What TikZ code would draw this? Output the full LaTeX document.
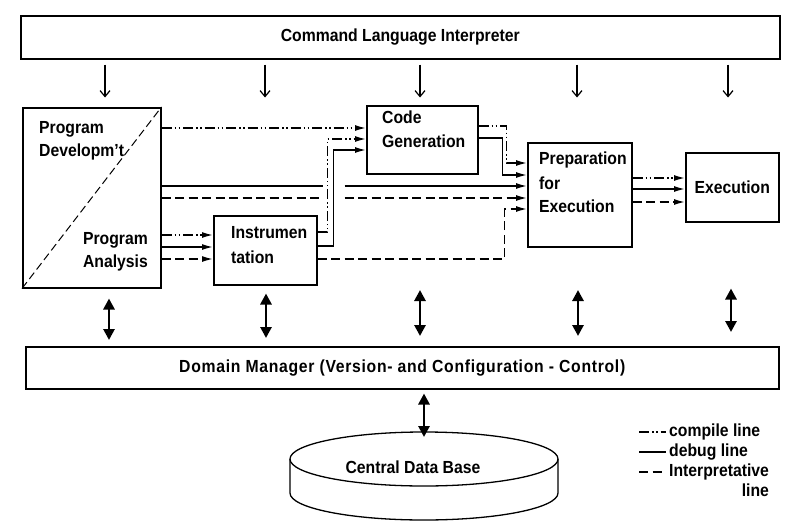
\documentclass[tikz,border=0pt]{standalone}
\usepackage{fontspec}
\setmainfont{Liberation Sans}[FakeStretch=0.9]
\usetikzlibrary{arrows.meta,calc}
\begin{document}
\begin{tikzpicture}[x=1pt,y=-1pt,
  box/.style={draw, line width=1.5pt, inner sep=0pt, anchor=north west},
  txt/.style={font=\fontsize{17.5}{17.5}\selectfont\bfseries, inner sep=0pt},
  lbl/.style={txt, anchor=west},
  comp/.style={line width=1.4pt, dash pattern=on 10pt off 3pt on 1.5pt off 2.5pt on 1.5pt off 3pt},
  dbg/.style={line width=1.4pt},
  intp/.style={line width=1.4pt, dash pattern=on 9pt off 4.5pt},
  arr/.style={-{Latex[length=11pt,width=6pt]}},
  down/.style={line width=1.2pt, -{Straight Barb[length=6pt,width=10pt]}},
  dbl/.style={line width=2.8pt, {Triangle[length=11pt,width=11pt]}-{Triangle[length=11pt,width=11pt]}}]
\useasboundingbox (0,0) rectangle (806,522);

% boxes
\node[box, txt, minimum width=759pt, minimum height=43pt] (cli) at (20,15) {Command Language Interpreter};
\node[box, minimum width=138pt, minimum height=180pt] (pd) at (22,107) {};
\node[box, minimum width=103pt, minimum height=69pt] (instr) at (213,215) {};
\node[box, minimum width=111pt, minimum height=68pt] (cg) at (366,105) {};
\node[box, minimum width=104pt, minimum height=104pt] (prep) at (527,142) {};
\node[box, txt, minimum width=93pt, minimum height=69pt] (exec) at (685,152) {Execution};
\node[box, txt, minimum width=753pt, minimum height=42pt] (dm) at (25,346) {\addfontfeatures{LetterSpace=4}Domain Manager (Version- and Configuration - Control)};

% diagonal in program development box
\draw[line width=1pt, dash pattern=on 8pt off 4pt] (pd.south west) -- (pd.north east);

% texts
\node[lbl] (t1) at (39,129) {Program};
\node[lbl] (t2) at (39,152) {Developm't};
\node[txt, anchor=east] (t3) at (148,240) {Program};
\node[txt, anchor=east] (t4) at (148,263) {Analysis};
\node[lbl] (t5) at (231,233) {Instrumen};
\node[lbl] (t6) at (231,257) {tation};
\node[lbl] (t7) at (382,117) {Code};
\node[lbl] (t8) at (382,141) {Generation};
\node[lbl] (t9) at (539,160) {Preparation};
\node[lbl] (t10) at (539,183) {for};
\node[lbl] (t11) at (539,206) {Execution};

% command arrows
\foreach \dx in {85,245,400,557,708}
  \draw[down] ($(cli.south west)+(\dx,5)$) -- ++(0,33);

% program development -> code generation
\draw[comp,arr] ($(pd.north east)+(0,21)$) coordinate (a1) -- (a1 -| cg.west);
% program development -> preparation (with gaps)
\draw[dbg] ($(pd.north east)+(0,79)$) coordinate (s1) -- ++(161,0);
\draw[dbg,arr] ($(s1)+(183,0)$) -- (s1 -| prep.west);
\draw[intp] ($(pd.north east)+(0,91)$) coordinate (s2) -- ++(161,0);
\draw[intp,arr] ($(s2)+(183,0)$) -- (s2 -| prep.west);
% program development -> instrumentation
\draw[comp,arr] ($(pd.north east)+(0,128)$) coordinate (b1) -- (b1 -| instr.west);
\draw[dbg,arr] ($(pd.north east)+(0,140)$) coordinate (b2) -- (b2 -| instr.west);
\draw[intp,arr] ($(pd.north east)+(0,152)$) coordinate (b3) -- (b3 -| instr.west);
% instrumentation -> code generation / preparation
\draw[comp,arr] ($(instr.north east)+(0,17)$) -- ++(10,0) |- ($(cg.north west)+(0,34)$);
\draw[dbg,arr] ($(instr.north east)+(0,31)$) -- ++(16,0) |- ($(cg.north west)+(0,45)$);
\draw[intp,arr] ($(instr.north east)+(0,44)$) -- ++(187,0) |- ($(prep.north west)+(0,67)$);
% code generation -> preparation
\draw[comp,arr] ($(cg.north east)+(0,21)$) -- ++(28,0) |- ($(prep.north west)+(0,21)$);
\draw[dbg,arr] ($(cg.north east)+(0,33)$) -- ++(24,0) |- ($(prep.north west)+(0,33)$);
% preparation -> execution
\draw[comp,arr] ($(prep.north east)+(0,36)$) coordinate (e1) -- (e1 -| exec.west);
\draw[dbg,arr] ($(prep.north east)+(0,47)$) coordinate (e2) -- (e2 -| exec.west);
\draw[intp,arr] ($(prep.north east)+(0,60)$) coordinate (e3) -- (e3 -| exec.west);

% domain manager arrows
\draw[dbl] ($(dm.north west)+(84,-6)$) -- ($(pd.south west)+(87,10)$);
\draw[dbl] ($(dm.north west)+(241,-8)$) -- ($(instr.south west)+(53,8)$);
\draw[dbl] ($(dm.north west)+(395,-10)$) -- ++(0,-46);
\draw[dbl] ($(dm.north west)+(553,-10)$) -- ++(0,-46);
\draw[dbl] ($(dm.north west)+(706,-14)$) -- ($(exec.south west)+(46,66)$);

% central data base
\draw[line width=1.3pt] (424,459) ellipse [x radius=134pt, y radius=27pt];
\draw[line width=1.3pt] (290,459) -- (290,493) arc[start angle=180, end angle=360, x radius=134pt, y radius=27pt] -- (558,459);
\coordinate (dbtop) at (424,437);
\node[txt] (db) at (413,467) {Central Data Base};
\draw[dbl] ($(dm.south west)+(399,4)$) -- (dbtop);

% legend
\draw[comp] (639,432) coordinate (l1) -- ++(27,0);
\node[lbl] (lt1) at (669,432) {compile line};
\draw[dbg] (639,452) -- ++(27,0);
\node[lbl] (lt2) at (669,452) {debug line};
\draw[intp] (639,472) -- ++(27,0);
\node[lbl] (lt3) at (669,472) {Interpretative};
\node[txt, anchor=east] (lt4) at (lt3.east |- 0,490) {line};
\end{tikzpicture}
\end{document}
